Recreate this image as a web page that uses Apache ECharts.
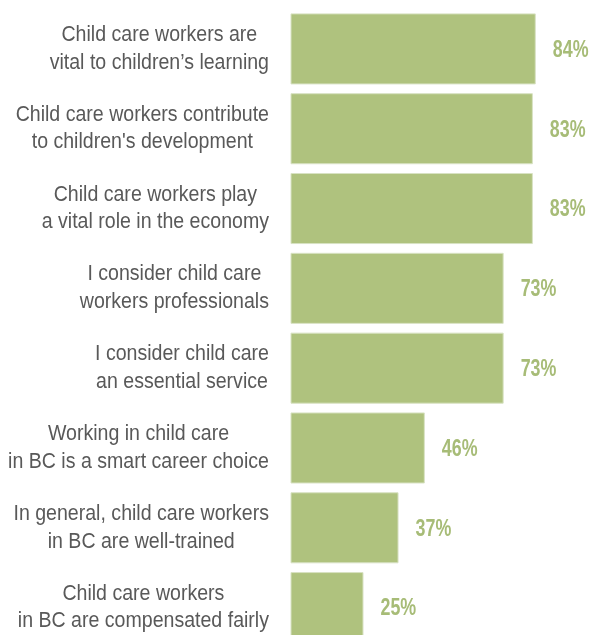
<!DOCTYPE html>
<html>
<head>
<meta charset="utf-8">
<title>Attitudes toward child care workers</title>
<script src="https://cdn.jsdelivr.net/npm/echarts@6/dist/echarts.min.js"></script>
<style>
  html, body { margin: 0; padding: 0; background: #ffffff; }
  #chart { width: 590px; height: 635px; }
</style>
</head>
<body>
<div id="chart"></div>
<script>
// Statements, listed top to bottom
const categories = [
  "Child care workers are\nvital to children’s learning",
  "Child care workers contribute\nto children's development",
  "Child care workers play\na vital role in the economy",
  "I consider child care\nworkers professionals",
  "I consider child care\nan essential service",
  "Working in child care\nin BC is a smart career choice",
  "In general, child care workers\nin BC are well-trained",
  "Child care workers\nin BC are compensated fairly"
];

// Share agreeing with each statement (%)
const agreeShare = [84, 83, 83, 73, 73, 46, 37, 25];

const barGreen = '#afc27e';
const labelGreen = '#a7bc77';
const textGrey = '#595959';

const GRID_LEFT = 290.5;
const LABEL_GAP = 21.5;     // space between statement text and bars
const VALUE_GAP = 17;       // space between bar end and its percentage

const chart = echarts.init(document.getElementById('chart'), null, { renderer: 'canvas' });

// Statement text: each line centred inside its block, block right-aligned to the bars
function renderStatement(params, api) {
  const p = api.coord([0, api.value(1)]);
  const lines = categories[params.dataIndex].split('\n')
    .map(function (line) { return '{c|' + line + '}'; }).join('\n');
  return {
    type: 'text',
    x: p[0] - LABEL_GAP,
    y: p[1],
    scaleX: 0.91,
    style: {
      text: lines,
      align: 'right',
      verticalAlign: 'middle',
      rich: {
        c: {
          align: 'center',
          fontFamily: '"Liberation Sans", Arial, sans-serif',
          fontSize: 21.5,
          lineHeight: 27.7,
          fill: textGrey
        }
      }
    }
  };
}

// Percentage next to the end of each bar
function renderValue(params, api) {
  const v = api.value(0);
  const p = api.coord([v, api.value(1)]);
  return {
    type: 'text',
    x: p[0] + VALUE_GAP,
    y: p[1] + 1.3,
    scaleX: 0.76,
    style: {
      text: v + '%',
      align: 'left',
      verticalAlign: 'middle',
      fontFamily: '"Liberation Sans", Arial, sans-serif',
      fontWeight: 'bold',
      fontSize: 23.5,
      fill: labelGreen
    }
  };
}

chart.setOption({
  animation: false,
  backgroundColor: '#ffffff',
  grid: {
    left: GRID_LEFT,
    right: 7.5,
    top: 9,
    height: 638.5,
    outerBoundsMode: 'none',
    containLabel: false
  },
  xAxis: {
    type: 'value',
    min: 0,
    max: 100,
    show: false
  },
  yAxis: {
    type: 'category',
    data: categories,
    inverse: true,
    axisLine: { show: false },
    axisTick: { show: false },
    splitLine: { show: false },
    axisLabel: { show: false }
  },
  series: [
    {
      type: 'bar',
      data: agreeShare,
      barCategoryGap: '11%',
      itemStyle: {
        color: barGreen,
        borderColor: '#d8e2c3',
        borderWidth: 1
      }
    },
    {
      type: 'custom',
      renderItem: renderValue,
      data: agreeShare.map(function (v, i) { return [v, i]; }),
      silent: true,
      z: 3
    },
    {
      type: 'custom',
      renderItem: renderStatement,
      data: categories.map(function (c, i) { return [0, i]; }),
      silent: true,
      z: 3
    }
  ]
});
</script>
</body>
</html>
